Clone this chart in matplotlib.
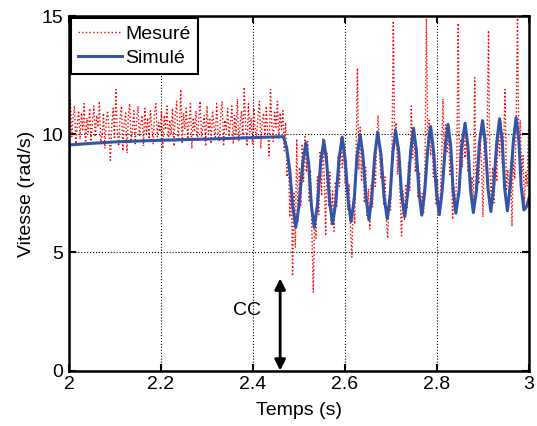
import numpy as np
import matplotlib.pyplot as plt

plt.rcParams['font.family'] = ['Liberation Sans', 'DejaVu Sans']

# vitesse simulée (temps, valeur)
t_sim = [2.0, 2.0005, 2.05, 2.1, 2.2, 2.3, 2.4, 2.46, 2.466, 2.473, 2.480, 2.486,
         2.493, 2.500, 2.508, 2.515, 2.521, 2.527, 2.533, 2.540, 2.547, 2.554,
         2.560, 2.567, 2.573, 2.580, 2.587, 2.594, 2.600, 2.607, 2.613, 2.620,
         2.626, 2.633, 2.639, 2.646, 2.652, 2.658, 2.665, 2.671, 2.678, 2.685,
         2.692, 2.698, 2.704, 2.710, 2.717, 2.723, 2.730, 2.736, 2.743, 2.749,
         2.755, 2.761, 2.767, 2.773, 2.780, 2.786, 2.792, 2.799, 2.805, 2.811,
         2.818, 2.824, 2.830, 2.835, 2.841, 2.848, 2.854, 2.861, 2.867, 2.873,
         2.879, 2.886, 2.892, 2.899, 2.905, 2.911, 2.917, 2.923, 2.930, 2.936,
         2.942, 2.947, 2.953, 2.959, 2.966, 2.972, 2.978, 2.983, 2.989, 2.995, 3.0]
v_sim = [5.0, 9.55, 9.62, 9.68, 9.75, 9.8, 9.86, 9.9, 9.9, 9.45, 8.46, 7.0,
         6.07, 6.97, 8.76, 9.65, 8.76, 6.97, 6.07, 6.99, 8.82, 9.74,
         8.86, 7.09, 6.21, 7.13, 8.96, 9.88, 8.99, 7.20, 6.31, 7.23,
         9.07, 9.99, 9.09, 7.28, 6.38, 7.31, 9.16, 10.08, 9.17, 7.34,
         6.42, 7.36, 9.23, 10.16, 9.25, 7.43, 6.52, 7.46, 9.33, 10.26,
         9.34, 7.50, 6.58, 7.52, 9.39, 10.33, 9.40, 7.53, 6.60, 7.56,
         9.47, 10.42, 9.48, 7.60, 6.66, 7.61, 9.52, 10.47, 9.53, 7.64,
         6.69, 7.66, 9.61, 10.58, 9.62, 7.69, 6.73, 7.71, 9.68, 10.66,
         9.69, 7.74, 6.76, 7.75, 9.72, 10.71, 9.73, 7.78, 6.80, 6.95, 7.3]

# vitesse mesurée, un échantillon toutes les 3 ms à partir de 2 s
dt_meas = 0.003
v_meas = [
    10.6, 11.5, 9.9, 10.8, 11.2, 9.6, 10.4, 11.0, 9.8, 10.9,
    10.2, 11.3, 9.5, 10.7, 10.1, 11.1, 9.7, 10.5, 11.2, 9.9,
    10.8, 10.3, 11.4, 9.6, 10.0, 10.9, 9.4, 10.6, 11.0, 10.2,
    8.9, 10.4, 11.1, 9.8, 11.9, 10.1, 9.5, 10.7, 11.2, 9.3,
    10.5, 10.9, 9.2, 10.8, 11.3, 9.7, 10.2, 11.0, 9.6, 10.6,
    11.2, 9.9, 10.4, 10.8, 9.5, 11.1, 10.0, 10.7, 9.8, 11.0,
    10.3, 9.6, 10.9, 11.3, 9.9, 10.5, 10.1, 11.0, 9.4, 10.8,
    10.2, 11.2, 9.7, 10.6, 10.0, 11.1, 9.5, 10.8, 11.4, 9.8,
    10.4, 11.9, 9.6, 10.9, 10.2, 11.1, 9.8, 10.5, 11.3, 9.4,
    10.7, 10.1, 11.0, 9.7, 10.6, 11.4, 9.9, 10.3, 10.8, 9.5,
    11.2, 10.0, 10.7, 9.6, 11.0, 10.4, 9.8, 11.3, 10.1, 9.7,
    10.9, 11.4, 9.5, 10.6, 10.2, 11.1, 9.9, 10.5, 11.2, 9.6,
    10.8, 10.0, 11.5, 9.7, 10.4, 11.0, 9.8, 12.0, 10.3, 9.5,
    11.3, 10.1, 10.7, 9.6, 11.1, 10.2, 9.9, 10.8, 11.4, 9.4,
    10.6, 10.9, 9.8, 11.2, 10.0, 9.1, 11.9, 10.4, 9.7, 11.0,
    10.3, 11.4, 9.8, 10.9, 10.2,
    # court-circuit
    11.0, 9.3, 10.5, 8.2, 9.0, 6.5, 8.2, 4.0, 7.5, 5.2,
    9.8, 6.3, 8.6, 7.0, 9.6, 8.0, 9.9, 8.4, 9.7, 7.2,
    8.5, 5.9, 3.3, 6.5, 5.6, 8.2, 6.6, 9.3, 7.4, 9.8,
    8.1, 5.7, 9.2, 7.0, 8.4, 6.2, 7.6, 5.9, 8.0, 6.9,
    9.1, 7.8, 9.9, 8.6, 9.6, 7.9, 8.9, 6.8, 7.9, 6.0,
    4.8, 7.3, 6.2, 8.9, 12.8, 8.5, 10.3, 8.0, 9.4, 7.1,
    8.6, 6.5, 7.7, 6.0, 7.9, 6.9, 9.0, 7.8, 9.7, 10.8,
    9.2, 8.1, 9.0, 7.0, 8.2, 6.3, 5.6, 7.4, 6.8, 9.1,
    14.8, 9.6, 10.5, 8.3, 9.5, 7.2, 5.7, 7.6, 6.4, 7.9,
    6.9, 8.8, 7.6, 11.2, 9.0, 10.2, 8.4, 9.5, 7.3, 8.4,
    6.6, 7.5, 6.7, 8.9, 14.9, 9.3, 10.6, 9.1, 10.0, 8.2,
    9.2, 7.0, 8.1, 6.6, 7.4, 8.9, 11.5, 9.0, 10.4, 9.2,
    10.1, 8.3, 9.1, 6.4, 7.8, 6.8, 8.5, 14.7, 8.2, 9.8,
    8.6, 10.3, 9.0, 10.1, 8.4, 9.3, 7.5, 8.2, 6.9, 12.4,
    7.6, 8.8, 7.9, 9.6, 8.7, 6.5, 10.2, 9.0, 10.0, 14.4,
    8.4, 7.3, 8.6, 7.1, 9.0, 8.0, 10.3, 9.1, 10.5, 8.8,
    9.8, 11.9, 7.6, 8.5, 7.2, 8.8, 6.1, 9.0, 8.1, 10.4,
    15.0, 9.2, 10.6, 8.3, 9.1, 6.9, 8.4, 7.8, 10.3,
]
t_meas = 2.0 + dt_meas * np.arange(len(v_meas))

x_ticks = [2.0, 2.2, 2.4, 2.6, 2.8, 3.0]
x_tick_labels = ['2', '2.2', '2.4', '2.6', '2.8', '3']
y_ticks = [0, 5, 10, 15]

t_cc = 2.459  # instant du court-circuit
fs = 14

fig = plt.figure(figsize=(5.37, 4.26), dpi=100)
ax = fig.add_axes([0.1285, 0.130, 0.8566, 0.832])

ax.plot(t_meas, v_meas, color='red', ls=':', lw=1.0, label='Mesuré')
ax.plot(t_sim, v_sim, color='#3355a5', lw=2.2, label='Simulé')

ax.set_xlim(2, 3)
ax.set_ylim(0, 15)
ax.set_xticks(x_ticks)
ax.set_xticklabels(x_tick_labels)
ax.set_yticks(y_ticks)
ax.grid(True, ls=':', color='black', lw=0.8)
ax.tick_params(direction='in', top=True, right=True, length=5, width=1.5,
               labelsize=fs, pad=4)
for sp in ax.spines.values():
    sp.set_linewidth(1.8)

ax.set_xlabel('Temps (s)', fontsize=fs, labelpad=6)
ax.set_ylabel('Vitesse (rad/s)', fontsize=fs, labelpad=5)

ax.annotate('', xy=(t_cc, 0), xytext=(t_cc, 3.9),
            arrowprops=dict(arrowstyle='<|-|>', color='black', lw=2,
                            mutation_scale=16, shrinkA=0, shrinkB=0))
ax.text(2.387, 2.55, 'CC', ha='center', va='center', fontsize=fs)

leg = ax.legend(loc='upper left', borderaxespad=0.1, fancybox=False,
                edgecolor='black', framealpha=1, fontsize=fs,
                handlelength=2.3, handletextpad=0.15, borderpad=0.35,
                labelspacing=0.35)
leg.get_frame().set_linewidth(1.5)

fig.savefig('out.png', dpi=100)
